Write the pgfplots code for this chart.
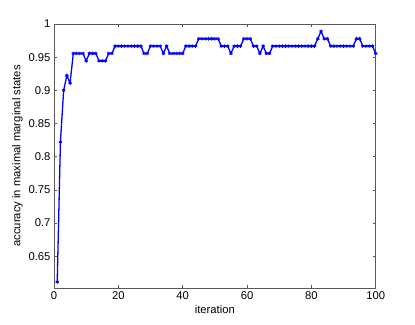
\documentclass[border=0pt]{standalone}
\usepackage{pgfplots}
\pgfplotsset{compat=1.18}
\usepackage{fontspec}
\setmainfont{Liberation Sans}
\begin{document}
\begin{tikzpicture}
\begin{axis}[
    scale only axis,
    width=321.7bp, height=264bp,
    xmin=0, xmax=100,
    ymin=0.602, ymax=1,
    xtick={0,20,...,100},
    ytick={0.65,0.7,0.75,0.8,0.85,0.9,0.95,1},
    yticklabels={0.65,0.7,0.75,0.8,0.85,0.9,0.95,1},
    xticklabels={0,20,40,60,80,100},
    tick align=inside,
    major tick length=3bp,
    axis line style={black!65, line width=0.8pt},
    tick style={black!65, line width=0.6pt},
    tick label style={font=\fontsize{11.3}{13}\selectfont},
    label style={font=\fontsize{11.3}{13}\selectfont},
    xlabel={iteration},
    ylabel={accuracy in maximal marginal states},
    xlabel style={yshift=1bp},
    ylabel style={yshift=-1bp},
]
\coordinate (bl) at (rel axis cs:0,0);
\coordinate (tr) at (rel axis cs:1,1);
\addplot[color={rgb,1:red,0;green,0;blue,1}, line width=1.3pt, mark=asterisk, mark size=1.8pt, mark options={line width=0.8pt}] coordinates {
(1,0.6111) (2,0.8222) (3,0.9) (4,0.9222) (5,0.9111)
(6,0.9556) (7,0.9556) (8,0.9556) (9,0.9556) (10,0.9444)
(11,0.9556) (12,0.9556) (13,0.9556) (14,0.9444) (15,0.9444)
(16,0.9444) (17,0.9556) (18,0.9556) (19,0.9667) (20,0.9667)
(21,0.9667) (22,0.9667) (23,0.9667) (24,0.9667) (25,0.9667)
(26,0.9667) (27,0.9667) (28,0.9556) (29,0.9556) (30,0.9667)
(31,0.9667) (32,0.9667) (33,0.9667) (34,0.9556) (35,0.9667)
(36,0.9556) (37,0.9556) (38,0.9556) (39,0.9556) (40,0.9556)
(41,0.9667) (42,0.9667) (43,0.9667) (44,0.9667) (45,0.9778)
(46,0.9778) (47,0.9778) (48,0.9778) (49,0.9778) (50,0.9778)
(51,0.9778) (52,0.9667) (53,0.9667) (54,0.9667) (55,0.9556)
(56,0.9667) (57,0.9667) (58,0.9667) (59,0.9778) (60,0.9778)
(61,0.9778) (62,0.9667) (63,0.9667) (64,0.9556) (65,0.9667)
(66,0.9556) (67,0.9556) (68,0.9667) (69,0.9667) (70,0.9667)
(71,0.9667) (72,0.9667) (73,0.9667) (74,0.9667) (75,0.9667)
(76,0.9667) (77,0.9667) (78,0.9667) (79,0.9667) (80,0.9667)
(81,0.9667) (82,0.9778) (83,0.9889) (84,0.9778) (85,0.9778)
(86,0.9667) (87,0.9667) (88,0.9667) (89,0.9667) (90,0.9667)
(91,0.9667) (92,0.9667) (93,0.9667) (94,0.9778) (95,0.9778)
(96,0.9667) (97,0.9667) (98,0.9667) (99,0.9667) (100,0.9556)
};
\end{axis}
\pgfresetboundingbox
\path[use as bounding box] ([xshift=-54bp,yshift=-37bp]bl) rectangle ([xshift=39.3bp,yshift=24bp]tr);
\end{tikzpicture}
\end{document}
